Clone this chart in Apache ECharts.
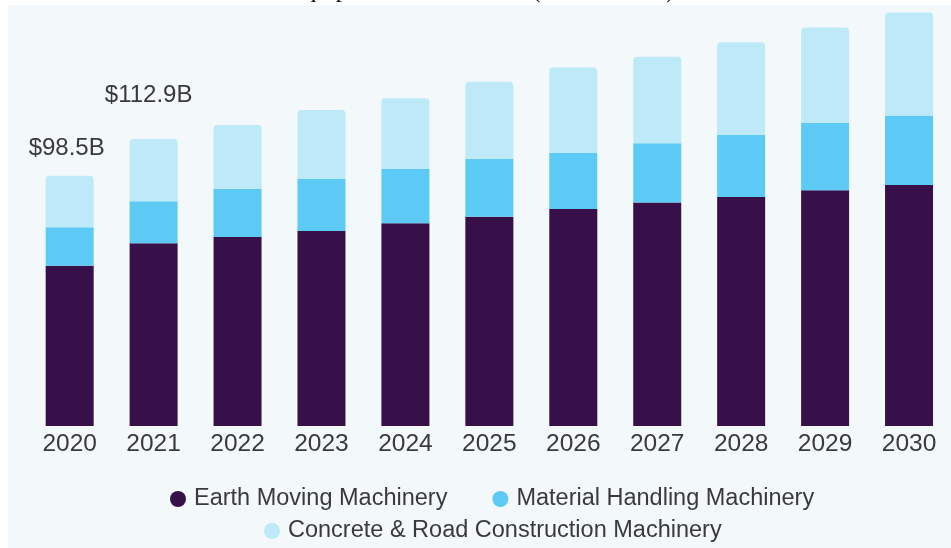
<!DOCTYPE html>
<html>
<head>
<meta charset="utf-8">
<style>
html,body{margin:0;padding:0;background:#ffffff;}
#chart{width:951px;height:548px;}
</style>
<script src="https://cdn.jsdelivr.net/npm/echarts@6/dist/echarts.min.js"></script>
</head>
<body>
<div id="chart"></div>
<script>
const years = ['2020','2021','2022','2023','2024','2025','2026','2027','2028','2029','2030'];
const earthMoving = [63.1, 71.9, 74.4, 76.7, 79.8, 82.3, 85.4, 88.0, 90.1, 92.8, 94.8];
const materialHandling = [15.1, 16.5, 18.9, 20.5, 21.3, 22.8, 22.0, 23.3, 24.5, 26.5, 27.4];
const concreteRoad = [20.3, 24.5, 25.2, 27.2, 27.9, 30.4, 33.7, 34.0, 36.4, 37.5, 40.5];
const totalLabels = ['$98.5B', '$112.9B'];
const seriesNames = ['Earth Moving Machinery', 'Material Handling Machinery', 'Concrete & Road Construction Machinery'];
const titleText = 'Construction Equipment Market Size (USD Billion)';

const FONT = '"Liberation Sans", Arial, sans-serif';
const colors = ['#37104A', '#5CCAF5', '#BDE9F9'];

const labelPlacement = [
  {distance: 15, offset: [-3, 0]},
  {distance: 32, offset: [-5, 0]}
];

const chart = echarts.init(document.getElementById('chart'), null, {renderer: 'canvas'});

const topData = concreteRoad.map((v, i) => {
  if (i < totalLabels.length) {
    return {
      value: v,
      label: {
        show: true,
        position: 'top',
        distance: labelPlacement[i].distance,
        offset: labelPlacement[i].offset,
        formatter: totalLabels[i],
        fontSize: 24,
        color: '#3a3a3a',
        fontFamily: FONT
      }
    };
  }
  return v;
});

const option = {
  backgroundColor: '#ffffff',
  animation: false,
  graphic: [
    {type: 'rect', z: -10, silent: true, shape: {x: 8, y: 5, width: 943, height: 543}, style: {fill: '#F3F8FB'}},
    {type: 'text', z: -5, silent: true, left: 153, top: -22,
     style: {text: titleText, font: '25px "Liberation Serif", "Times New Roman", serif', fill: '#000000'}}
  ],
  grid: {left: 27.7, width: 924.3, top: 6.73, height: 419.27, containLabel: false},
  xAxis: {
    type: 'category',
    data: years,
    boundaryGap: true,
    axisLine: {show: false},
    axisTick: {show: false},
    axisLabel: {fontSize: 24.5, color: '#3a3a3a', fontFamily: FONT, margin: 6}
  },
  yAxis: {
    type: 'value',
    min: 0,
    max: 165,
    show: false,
    splitLine: {show: false}
  },
  legend: [
    {
      data: [seriesNames[0], seriesNames[1]],
      left: 165, top: 482,
      icon: 'circle', itemWidth: 22, itemHeight: 16, itemGap: 45,
      textStyle: {fontSize: 23.5, color: '#3a3a3a', fontFamily: FONT}
    },
    {
      data: [seriesNames[2]],
      left: 259, top: 514,
      icon: 'circle', itemWidth: 22, itemHeight: 16,
      textStyle: {fontSize: 23.5, color: '#3a3a3a', fontFamily: FONT}
    }
  ],
  series: [
    {name: seriesNames[0], type: 'bar', stack: 'total', barWidth: 48, data: earthMoving,
     itemStyle: {color: colors[0]}},
    {name: seriesNames[1], type: 'bar', stack: 'total', barWidth: 48, data: materialHandling,
     itemStyle: {color: colors[1]}},
    {name: seriesNames[2], type: 'bar', stack: 'total', barWidth: 48, data: topData,
     itemStyle: {color: colors[2], borderRadius: [4, 4, 0, 0]}}
  ]
};
chart.setOption(option);
</script>
</body>
</html>
